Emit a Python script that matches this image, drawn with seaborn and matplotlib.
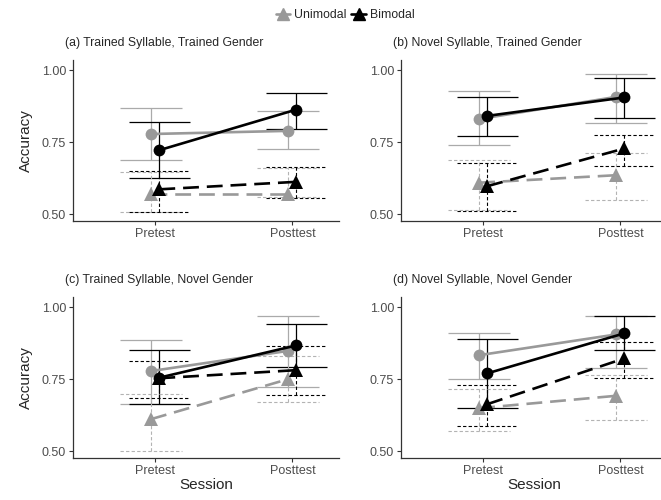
import numpy as np
import pandas as pd
import matplotlib
matplotlib.use("Agg")
import matplotlib.pyplot as plt
from matplotlib.lines import Line2D
import seaborn as sns

sessions = ["Pretest", "Posttest"]
groups = ["Unimodal", "Bimodal"]
measures = ["circle", "triangle"]
panels = ["(a) Trained Syllable, Trained Gender",
          "(b) Novel Syllable, Trained Gender",
          "(c) Trained Syllable, Novel Gender",
          "(d) Novel Syllable, Novel Gender"]

# each row = one panel, [Pretest, Posttest]
uni_circle_mean = [[0.778, 0.789], [0.830, 0.907], [0.778, 0.848], [0.833, 0.905]]
uni_circle_lo = [[0.687, 0.725], [0.740, 0.817], [0.665, 0.723], [0.752, 0.790]]
uni_circle_hi = [[0.870, 0.858], [0.927, 0.988], [0.885, 0.969], [0.911, 0.970]]

bi_circle_mean = [[0.722, 0.863], [0.841, 0.905], [0.755, 0.867], [0.770, 0.909]]
bi_circle_lo = [[0.626, 0.797], [0.771, 0.832], [0.663, 0.792], [0.651, 0.850]]
bi_circle_hi = [[0.820, 0.922], [0.907, 0.973], [0.850, 0.942], [0.888, 0.969]]

uni_tri_mean = [[0.569, 0.569], [0.609, 0.635], [0.611, 0.750], [0.649, 0.692]]
uni_tri_lo = [[0.508, 0.558], [0.514, 0.549], [0.501, 0.671], [0.571, 0.609]]
uni_tri_hi = [[0.647, 0.660], [0.688, 0.713], [0.698, 0.830], [0.715, 0.763]]

bi_tri_mean = [[0.586, 0.612], [0.597, 0.728], [0.753, 0.781], [0.663, 0.822]]
bi_tri_lo = [[0.508, 0.557], [0.510, 0.667], [0.684, 0.694], [0.588, 0.755]]
bi_tri_hi = [[0.648, 0.662], [0.678, 0.774], [0.813, 0.865], [0.729, 0.880]]

series = {
    ("Unimodal", "circle"): (uni_circle_mean, uni_circle_lo, uni_circle_hi),
    ("Bimodal", "circle"): (bi_circle_mean, bi_circle_lo, bi_circle_hi),
    ("Unimodal", "triangle"): (uni_tri_mean, uni_tri_lo, uni_tri_hi),
    ("Bimodal", "triangle"): (bi_tri_mean, bi_tri_lo, bi_tri_hi),
}

rows = []
for (g, m), (mean, lo, hi) in series.items():
    for p in range(4):
        for s in range(2):
            rows.append(dict(panel=p, group=g, measure=m, session=s,
                             acc=mean[p][s], lo=lo[p][s], hi=hi[p][s]))
df = pd.DataFrame(rows)

dodge = {"Unimodal": -0.03, "Bimodal": 0.03}
df["x"] = df["session"] + df["group"].map(dodge)

sns.set_theme(style="ticks")
plt.rcParams["font.family"] = ["Liberation Sans", "DejaVu Sans"]

palette = {"Unimodal": "#999999", "Bimodal": "#000000"}
bar_col = {("Unimodal", "circle"): "#aaaaaa", ("Bimodal", "circle"): "#000000",
           ("Unimodal", "triangle"): "#b3b3b3", ("Bimodal", "triangle"): "#000000"}
mk = {"circle": ("o", "", 8.5), "triangle": ("^", (6, 3), 10.5)}

fig = plt.figure(figsize=(6.61, 5.0), dpi=100)
W, H = 661, 500
boxes = [(73, 60), (401, 60), (73, 297), (401, 297)]
pw, ph = 266, 161

for p in range(4):
    x0, y0 = boxes[p]
    ax = fig.add_axes([x0 / W, 1 - (y0 + ph) / H, pw / W, ph / H])
    sub = df[df["panel"] == p]

    # error bars
    for m in measures:
        for g in groups:
            d = sub[(sub["group"] == g) & (sub["measure"] == m)]
            ls = "-" if m == "circle" else (0, (3, 2))
            lw = 0.9 if m == "circle" else 0.8
            c = bar_col[(g, m)]
            ax.vlines(d["x"], d["lo"], d["hi"], colors=c, linestyles=ls, lw=lw, zorder=1)
            ax.hlines(d["lo"], d["x"] - 0.225, d["x"] + 0.225, colors=c, linestyles=ls, lw=lw, zorder=1)
            ax.hlines(d["hi"], d["x"] - 0.225, d["x"] + 0.225, colors=c, linestyles=ls, lw=lw, zorder=1)

    for m in ["triangle", "circle"]:
        marker, dash, size = mk[m]
        sns.lineplot(data=sub[sub["measure"] == m], x="x", y="acc", hue="group",
                     hue_order=groups, palette=palette, marker=marker,
                     estimator=None, sort=False, lw=1.9, markersize=size,
                     markeredgewidth=0, legend=False, ax=ax, zorder=3)
        if dash:
            for ln in ax.get_lines()[-2:]:
                ln.set_dashes(dash)

    ax.set_xlim(-0.6, 1.34)
    ax.set_ylim(0.476, 1.035)
    ax.set_xticks([0, 1])
    ax.set_xticklabels(sessions)
    ax.set_yticks([0.5, 0.75, 1.0])
    ax.set_yticklabels(["0.50", "0.75", "1.00"])
    ax.tick_params(labelsize=9, colors="#333333", labelcolor="#4d4d4d", length=3, width=0.8, pad=2)
    for sp in ["top", "right"]:
        ax.spines[sp].set_visible(False)
    for sp in ["left", "bottom"]:
        ax.spines[sp].set_color("#333333")
        ax.spines[sp].set_linewidth(0.9)
    ax.set_xlabel("Session" if p >= 2 else "", fontsize=11, labelpad=1)
    ax.set_ylabel("Accuracy" if p % 2 == 0 else "", fontsize=11, labelpad=6)
    fig.text((x0 - 8) / W, 1 - (y0 - 17) / H, panels[p], fontsize=8.8, ha="left", va="center")

handles = [Line2D([], [], color=palette[g], marker="^", lw=1.9, markersize=8) for g in groups]
fig.legend(handles, groups, loc="center", bbox_to_anchor=(0.522, 1 - 15 / H), ncol=2,
           frameon=False, fontsize=8.8, handlelength=1.2, handletextpad=0.3, columnspacing=0.4)

fig.savefig("out.png", dpi=100)
